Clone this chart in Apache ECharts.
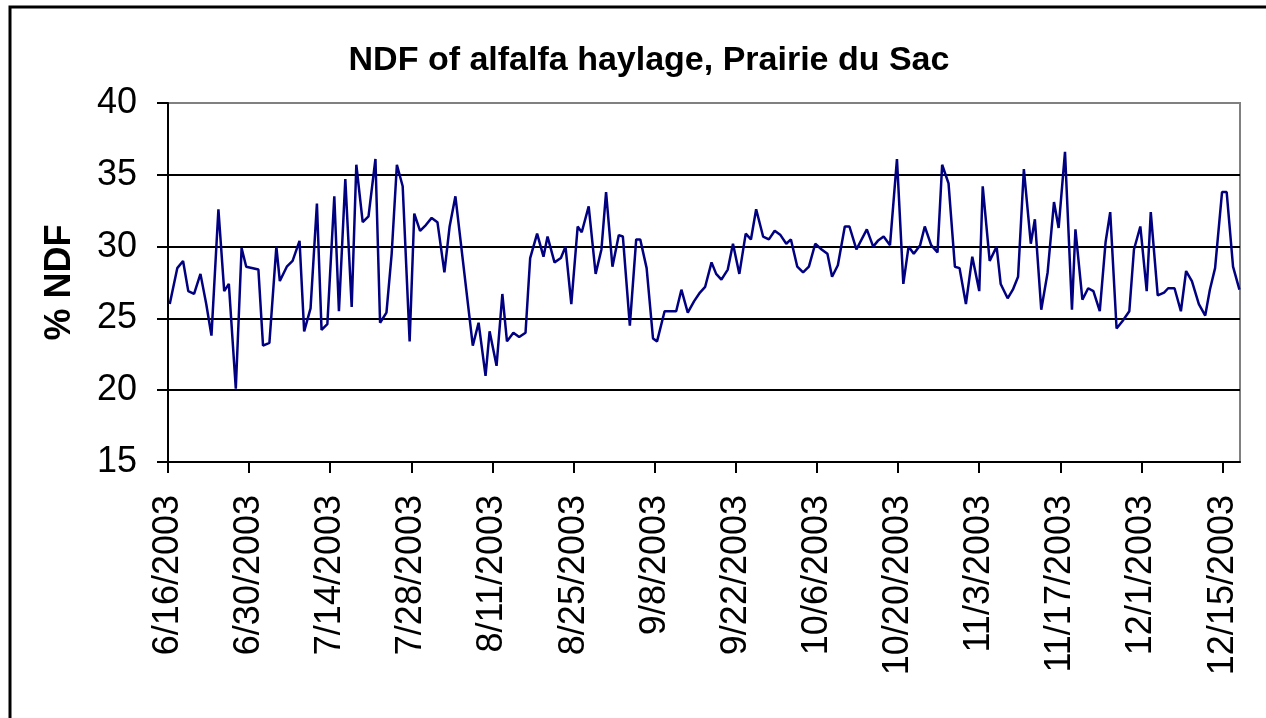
<!DOCTYPE html>
<html>
<head>
<meta charset="utf-8">
<title>NDF of alfalfa haylage, Prairie du Sac</title>
<script src="https://cdn.jsdelivr.net/npm/echarts@6/dist/echarts.min.js"></script>
<style>
    html, body { margin: 0; padding: 0; background: #fff; }
    #chart { width: 1266px; height: 718px; }
</style>
</head>
<body>
<div id="chart"></div>
<script>
// days after 6/16/2003 for each sample
var dayOffsets = [
    0.3, 1.6, 2.6, 3.5, 4.5, 5.6, 6.6, 7.5, 8.7, 9.7, 10.5, 11.7, 12.7, 13.5, 15.6, 16.4,
    17.5, 18.7, 19.3, 20.5, 21.5, 22.7, 23.5, 24.6, 25.7, 26.5, 27.5, 28.7, 29.5, 30.6, 31.7, 32.5,
    33.6, 34.6, 35.8, 36.6, 37.7, 38.6, 39.5, 40.5, 41.7, 42.5, 43.5, 44.5, 45.5, 46.5, 47.7, 48.6,
    49.6, 52.6, 53.6, 54.8, 55.5, 56.7, 57.7, 58.5, 59.6, 60.6, 61.7, 62.5, 63.7, 64.8, 65.5,
    66.7, 67.8, 68.6, 69.6, 70.7, 71.4, 72.6, 73.8, 74.8, 75.6, 76.7, 77.8, 78.5, 79.7, 80.8, 81.5,
    82.6, 83.7, 84.4, 85.7, 86.7, 87.7, 88.6, 89.7, 90.8, 91.8, 92.7, 93.8, 94.6, 95.5, 96.6, 97.5, 98.6,
    99.7, 100.6, 101.5, 102.7, 103.7, 104.7, 105.7, 106.7, 107.5, 108.6, 109.6, 110.6, 111.7, 112.8,
    113.8, 114.6, 115.6, 116.8, 117.6, 118.8, 120.6, 121.7, 122.5, 123.5, 124.6, 125.8, 126.9, 127.8,
    128.7, 129.8, 130.6, 131.7, 132.8, 133.6, 134.7, 135.8, 136.6, 137.7, 138.8, 140.0, 140.6, 141.8,
    143.0, 143.7, 144.9, 145.8, 146.7, 147.7, 148.9, 149.6, 150.7, 151.8, 152.9, 153.7, 154.8, 156.0,
    156.6, 157.8, 158.8, 159.7, 160.8, 161.8, 162.6, 163.7, 164.7, 165.9, 166.7, 167.8, 168.9, 169.6,
    170.8, 171.9, 172.6, 173.7, 174.8, 175.7, 176.7, 177.9, 179.0, 179.8, 180.7, 181.9, 182.7, 183.8, 184.9
];

// % NDF
var ndfValues = [
    26.0, 28.5, 29.0, 26.9, 26.7, 28.1, 26.0, 23.8, 32.6, 26.9, 27.4, 20.1, 29.9, 28.6, 28.4, 23.1,
    23.3, 30.0, 27.6, 28.6, 29.0, 30.4, 24.1, 25.7, 33.0, 24.2, 24.6, 33.5, 25.5, 34.7, 25.8, 35.7,
    31.7, 32.1, 36.1, 24.7, 25.4, 29.5, 35.7, 34.2, 23.4, 32.3, 31.1, 31.5, 32.0, 31.7, 28.2, 31.4,
    33.5, 23.1, 24.7, 21.0, 24.1, 21.7, 26.7, 23.4, 24.0, 23.7, 24.0, 29.2, 30.9, 29.3, 30.7,
    28.9, 29.2, 30.0, 26.0, 31.4, 31.0, 32.8, 28.1, 29.8, 33.8, 28.6, 30.8, 30.7, 24.5, 30.5, 30.5,
    28.5, 23.6, 23.4, 25.5, 25.5, 25.5, 27.0, 25.4, 26.2, 26.8, 27.2, 28.9, 28.1, 27.7, 28.4, 30.2, 28.1,
    30.9, 30.5, 32.6, 30.7, 30.5, 31.1, 30.8, 30.2, 30.5, 28.6, 28.2, 28.6, 30.2, 29.8,
    29.5, 27.9, 28.7, 31.4, 31.4, 29.8, 31.2, 30.0, 30.4, 30.7, 30.1, 36.1, 27.4, 30.0,
    29.5, 30.1, 31.4, 30.1, 29.6, 35.7, 34.4, 28.6, 28.5, 26.0, 29.3, 26.9, 34.2, 29.0,
    30.0, 27.4, 26.4, 27.0, 27.9, 35.4, 30.2, 31.9, 25.6, 28.2, 33.1, 31.3, 36.6, 25.6,
    31.2, 26.3, 27.1, 26.9, 25.5, 30.3, 32.4, 24.3, 24.8, 25.5, 29.8, 31.4, 26.9, 32.4,
    26.6, 26.8, 27.1, 27.1, 25.5, 28.3, 27.6, 26.0, 25.2, 27.0, 28.5, 33.8, 33.8, 28.6, 27.0
];

var yTicks = [15, 20, 25, 30, 35, 40];

function dayLabel(v) {
    var d = new Date(2003, 5, 16 + Math.round(v));
    return (d.getMonth() + 1) + '/' + d.getDate() + '/' + d.getFullYear();
}

var seriesData = dayOffsets.map(function (day, i) {
    return [day, ndfValues[i]];
});

var chart = echarts.init(document.getElementById('chart'));

var options = {
    animation: false,
    backgroundColor: '#fff',
    textStyle: { fontFamily: 'Liberation Sans, Arial, sans-serif' },
    title: {
        text: 'NDF of alfalfa haylage, Prairie du Sac',
        left: 644,
        top: 39,
        textAlign: 'center',
        textStyle: {
            fontFamily: 'Liberation Sans, Arial, sans-serif',
            fontWeight: 'bold',
            fontSize: 34,
            color: '#000'
        }
    },
    graphic: [{
        type: 'rect',
        z: -10,
        shape: { x: 10, y: 7, width: 1400, height: 900 },
        style: { fill: null, stroke: '#000', lineWidth: 3 }
    }],
    grid: {
        left: 168,
        top: 103,
        right: 26,
        bottom: 256,
        show: true,
        borderColor: '#808080',
        borderWidth: 2
    },
    xAxis: {
        type: 'value',
        min: 0,
        max: 185,
        interval: 14,
        axisLine: { lineStyle: { color: '#000', width: 2 } },
        axisTick: { length: 11, lineStyle: { color: '#000', width: 2 } },
        splitLine: { show: false },
        axisLabel: {
            rotate: 90,
            margin: 33,
            fontSize: 36,
            color: '#000',
            showMaxLabel: false,
            formatter: dayLabel
        }
    },
    yAxis: {
        type: 'value',
        min: yTicks[0],
        max: yTicks[yTicks.length - 1],
        interval: 5,
        name: '% NDF',
        nameLocation: 'middle',
        nameRotate: 90,
        nameGap: 90,
        nameTextStyle: { fontSize: 36, fontWeight: 'bold', color: '#000' },
        axisLine: { show: true, lineStyle: { color: '#000', width: 2 } },
        axisTick: { show: true, length: 11, lineStyle: { color: '#000', width: 2 } },
        splitLine: {
            lineStyle: { color: ['#000', '#000', '#000', '#000', '#000', '#808080'], width: 2 }
        },
        axisLabel: { margin: 31, fontSize: 36, color: '#000' }
    },
    series: [{
        type: 'line',
        data: seriesData,
        symbol: 'none',
        lineStyle: { color: '#000080', width: 2.5 }
    }]
};

chart.setOption(options);

window.addEventListener('resize', function () {
    chart.resize();
});
</script>
</body>
</html>
